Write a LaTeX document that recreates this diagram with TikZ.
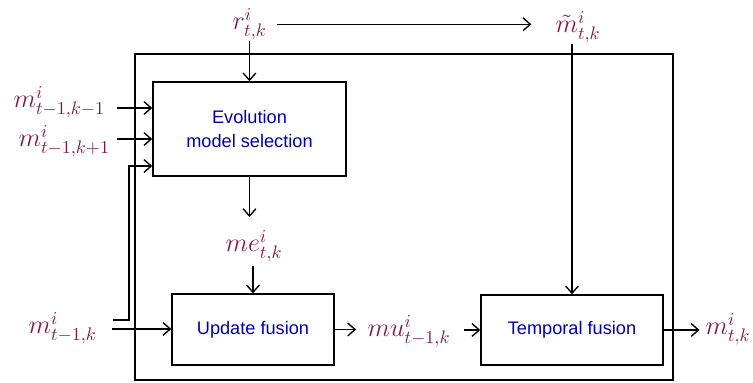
\documentclass[tikz,border=0pt]{standalone}
\usepackage{fontspec}
\setsansfont{Liberation Sans}
\usetikzlibrary{arrows.meta}
\definecolor{sigred}{RGB}{128,26,72}
\definecolor{boxblue}{RGB}{0,0,178}
\tikzset {>={Straight Barb[length=4pt,width=7pt]}}
\tikzset{blk/.style={draw,inner sep=0pt,font=\sffamily,text=boxblue,align=center},
  sig/.style={inner sep=0pt,anchor=base west,text=sigred,font=\Large}}

\begin{document}
\begin{tikzpicture}[x=0.55pt,y=-0.55pt,line width=0.75pt]
\useasboundingbox (0,0) rectangle (753,383);
\draw (135,54) rectangle (673,380);
% blocks
\node[blk,minimum width=106.2pt,minimum height=51.7pt] (evo) at (249.5,129) {Evolution\\[1.7pt]model selection};
\node[blk,minimum width=89.1pt,minimum height=39pt] (uf) at (253,329.5) {Update fusion};
\node[blk,minimum width=100.1pt,minimum height=38.5pt] (tf) at (572,330) {Temporal fusion};
% signals
\node[sig] (r) at (232,30) {$r^i_{t,k}$};
\node[sig] (mt) at (555,33) {$\tilde{m}^i_{t,k}$};
\node[sig] (mA) at (13,108) {$m^i_{t-1,k-1}$};
\node[sig] (mB) at (18,147) {$m^i_{t-1,k+1}$};
\node[sig] (mC) at (28,334) {$m^i_{t-1,k}$};
\node[sig] (me) at (225,252) {$me^i_{t,k}$};
\node[sig] (mu) at (367,337) {$mu^i_{t-1,k}$};
\node[sig] (mout) at (705,335) {$m^i_{t,k}$};
\coordinate (inA) at (117,108);
\coordinate (inB) at (117,139);
\coordinate (inC) at (112,329);
\coordinate (fb) at (113,320);
% connectors
\draw[->] (r.south -| evo.north) -- (evo.north);
\draw[->,shorten <=5.5pt,shorten >=13pt] (r.east) -- (r.east -| mt.west);
\draw[->] (mt.south -| tf.north) -- (tf.north);
\draw[->] (inA) -- (inA -| evo.west);
\draw[->] (inB) -- (inB -| evo.west);
\draw[->] (fb) -- ++(16,0) |- (evo.west |- 0,166);
\draw[->] (inC) -- (inC -| uf.west);
\draw[->,shorten >=7pt] (evo.south) -- (evo.south |- me.north);
\draw[->,shorten <=2pt] (me.south -| uf.north) -- (uf.north);
\draw[->,shorten >=6pt] (uf.east) -- (uf.east -| mu.west);
\draw[->,shorten <=7pt] (mu.east |- tf.west) -- (tf.west);
\draw[->,shorten >=3pt] (tf.east) -- (tf.east -| mout.west);
\end{tikzpicture}
\end{document}
